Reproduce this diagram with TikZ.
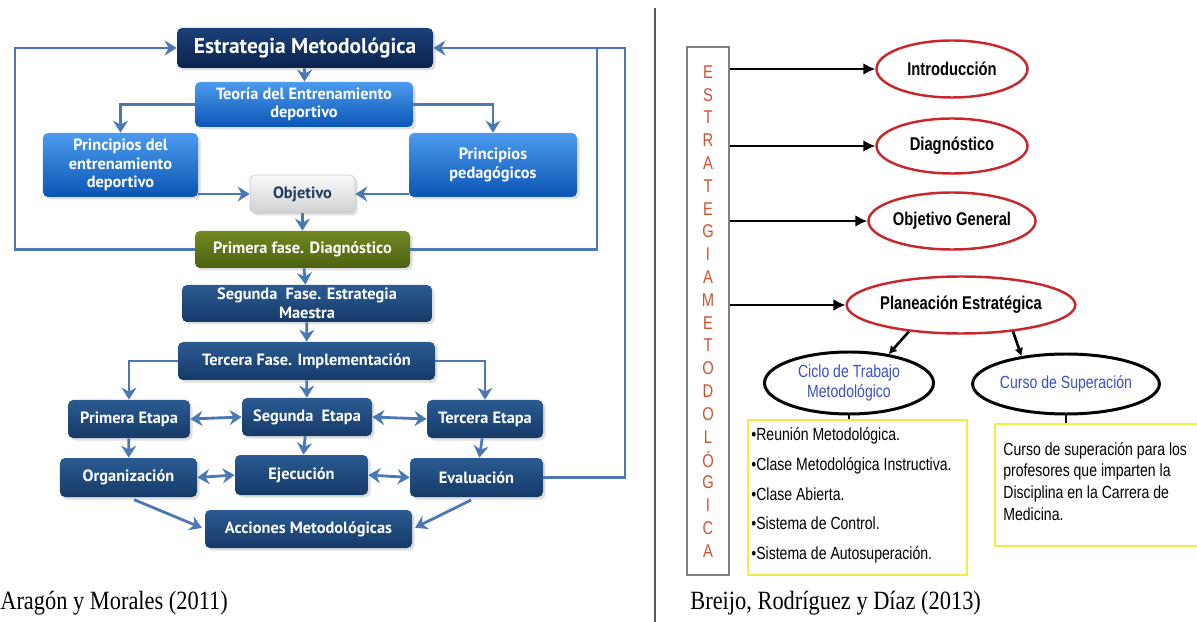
\documentclass[tikz,border=0pt]{standalone}
\usepackage{fontspec}
\setmainfont{Liberation Serif}
\newfontfamily\boxfont{PT Sans}
\newfontfamily\narrowfont[FakeStretch=0.8]{Liberation Sans}
\newfontfamily\capfont[FakeStretch=0.85]{Liberation Serif}
\usetikzlibrary{arrows.meta,shapes.geometric,positioning,shadows}

\definecolor{linkblue}{HTML}{4A78B4}
\definecolor{navytop}{HTML}{2B5B92}
\definecolor{navybot}{HTML}{153A68}
\definecolor{darktop}{HTML}{1B4079}
\definecolor{darkbot}{HTML}{0A234D}
\definecolor{brighttop}{HTML}{4C9BEF}
\definecolor{brightbot}{HTML}{0B55B4}
\definecolor{olivetop}{HTML}{718824}
\definecolor{olivebot}{HTML}{4D6210}
\definecolor{objtext}{HTML}{1F3A60}
\definecolor{ellred}{HTML}{C8282C}
\definecolor{letterred}{HTML}{D0502C}
\definecolor{cicloblue}{HTML}{3A4FC8}
\definecolor{boxyellow}{HTML}{F0EC48}

\begin{document}
\begin{tikzpicture}[x=0.2mm, y=-0.2mm,
    bx/.style={rounded corners=1mm, text=white, align=center, inner sep=1pt,
      font=\boxfont\bfseries\fontsize{9.3}{10.5}\selectfont,
      drop shadow={opacity=0.25, shadow xshift=0.5mm, shadow yshift=-0.5mm}},
    navybox/.style={bx, top color=navytop, bottom color=navybot},
    darkbox/.style={bx, top color=darktop, bottom color=darkbot},
    brightbox/.style={bx, top color=brighttop, bottom color=brightbot},
    olivebox/.style={bx, top color=olivetop, bottom color=olivebot},
    graybox/.style={bx, top color=white!95!gray, bottom color=gray!35, draw=gray!40, text=objtext},
    conn/.style={draw=linkblue, line width=1.6pt},
    tip/.style={-{Stealth[length=2.4mm,width=3mm,inset=0.8mm]}},
    dtip/.style={{Stealth[length=2.4mm,width=3mm,inset=0.8mm]}-{Stealth[length=2.4mm,width=3mm,inset=0.8mm]}},
    redell/.style={ellipse, draw=ellred, line width=1.4pt, inner sep=0pt,
      font=\narrowfont\bfseries\fontsize{10.5}{12}\selectfont},
    blkell/.style={ellipse, draw=black, line width=1.7pt, inner sep=0pt, text=cicloblue, align=center,
      font=\narrowfont\fontsize{10}{11}\selectfont},
    blk/.style={draw=black, line width=1.7pt, -{Latex[length=2.4mm,width=2.4mm]}},
    yelbox/.style={draw=boxyellow, line width=1.6pt},
    letter/.style={text=letterred, inner sep=0pt, font=\narrowfont\fontsize{10.5}{10.5}\selectfont}]

  \useasboundingbox (0,0) rectangle (1197,622);
  \clip (0,0) rectangle (1197,622);

  % left diagram
  \node[darkbox, minimum width=51.2mm, minimum height=8mm, font=\boxfont\bfseries\fontsize{12.2}{14}\selectfont] (estr) at (305,48) {Estrategia Metodológica};
  \node[brightbox, minimum width=43.6mm, minimum height=9mm] (teoria) at (304,104.5) {Teoría del Entrenamiento\\deportivo};
  \node[brightbox, minimum width=31mm, minimum height=12.8mm] (pdel) at (120.5,165) {Principios del\\entrenamiento\\deportivo};
  \node[brightbox, minimum width=33.6mm, minimum height=12.8mm] (pped) at (493,165) {Principios\\pedagógicos};
  \node[graybox, minimum width=21mm, minimum height=7.6mm] (obj) at (302.5,194) {Objetivo};
  \node[olivebox, minimum width=43mm, minimum height=7.4mm] (fase1) at (302.5,249.5) {Primera fase. Diagnóstico};
  \node[navybox, minimum width=50mm, minimum height=7.4mm] (fase2) at (307,303.5) {Segunda\ \ Fase. Estrategia\\Maestra};
  \node[navybox, minimum width=51.4mm, minimum height=7.6mm] (fase3) at (306.5,361) {Tercera Fase. Implementación};
  \node[navybox, minimum width=24.4mm, minimum height=7.6mm] (etapa1) at (129,419) {Primera Etapa};
  \node[navybox, minimum width=26mm, minimum height=7.6mm] (etapa2) at (307,417) {Segunda\ \ Etapa};
  \node[navybox, minimum width=23.2mm, minimum height=7.6mm] (etapa3) at (485,419) {Tercera Etapa};
  \node[navybox, minimum width=27.4mm, minimum height=7.8mm] (org) at (128.5,477.5) {Organización};
  \node[navybox, minimum width=26.6mm, minimum height=8mm] (ejec) at (301.5,475) {Ejecución};
  \node[navybox, minimum width=26.6mm, minimum height=7.8mm] (eval) at (476.5,477.5) {Evaluación};
  \node[navybox, minimum width=41.4mm, minimum height=7.6mm] (acc) at (308.5,529) {Acciones Metodológicas};

  \coordinate (lloop) at (15,48);
  \coordinate (rloopa) at (597,48);
  \coordinate (rloopb) at (625,48);

  \draw[conn, tip] (fase1.west) -| (lloop) -- (estr.west);
  \draw[conn] (fase1.east) -| (rloopa);
  \draw[conn, tip] (eval.east) -| (rloopb) -- (estr.east);
  \draw[conn, tip] (estr) -- (teoria);
  \draw[conn, tip] (teoria.west) -| (pdel.north);
  \draw[conn, tip] (teoria.east) -| (pped.north);
  \draw[conn, tip] (pdel.east |- obj.west) -- (obj.west);
  \draw[conn, tip] (pped.west |- obj.east) -- (obj.east);
  \draw[conn, tip] (obj) -- (fase1);
  \draw[conn, tip] (fase1) -- (fase2);
  \draw[conn, tip] (fase2) -- (fase3);
  \draw[conn, tip] (fase3.west) -| (etapa1.north);
  \draw[conn, tip] (fase3.east) -| (etapa3.north);
  \draw[conn, tip] (fase3) -- (etapa2);
  \draw[conn, dtip] (etapa1.east) -- (etapa2.west);
  \draw[conn, dtip] (etapa2.east) -- (etapa3.west);
  \draw[conn, tip] (etapa1) -- (org);
  \draw[conn, tip] (etapa2) -- (ejec);
  \draw[conn, tip] (etapa3) -- (eval);
  \draw[conn, dtip] (org.east) -- (ejec.west);
  \draw[conn, dtip] (ejec.east) -- (eval.west);
  \draw[conn, tip, shorten <=1.2mm, shorten >=0.6mm] (org.south) -- (acc.west);
  \draw[conn, tip, shorten <=1.2mm, shorten >=0.6mm] (eval.south) -- (acc.east);

  \node[font=\capfont\fontsize{15}{15}\selectfont, anchor=west, inner sep=0pt] (capa) at (0,603) {Aragón y Morales (2011)};

  % divider
  \draw[gray!70!black, line width=0.9pt] (655,8) -- (655,622);

  % right diagram
  \node[draw=gray, line width=1.3pt, minimum width=8.4mm, minimum height=105.6mm] (estbox) at (708,311) {};
  \foreach \l [count=\i from 0] in {E,S,T,R,A,T,E,G,I,A,M,E,T,O,D,O,L,Ó,G,I,C,A}
    \node[letter] (let\i) at (708,{72+22.8*\i}) {\l};

  \node[redell, minimum width=30.2mm, minimum height=11.4mm] (intro) at (952,69) {Introducción};
  \node[redell, minimum width=30.2mm, minimum height=11mm] (diag) at (952,146) {Diagnóstico};
  \node[redell, minimum width=30.2mm, minimum height=11.4mm] (objg) at (952,221) {Objetivo General};
  \node[redell, minimum width=42.4mm, minimum height=11.4mm] (plan) at (961,305) {Planeación Estratégica};

  \draw[blk] (estbox.east |- intro.west) -- (intro.west);
  \draw[blk] (estbox.east |- diag.west) -- (diag.west);
  \draw[blk] (estbox.east |- objg.west) -- (objg.west);
  \draw[blk] (estbox.east |- plan.west) -- (plan.west);

  \node[blkell, minimum width=33.8mm, minimum height=12.4mm] (ciclo) at (849,383) {Ciclo de Trabajo\\Metodológico};
  \node[blkell, minimum width=33.8mm, minimum height=12mm] (curso) at (1066,384) {Curso de Superación};
  \draw[black, line width=1.5pt, -{Latex[length=1.6mm,width=1.8mm]}] (plan.207) -- (ciclo.36);
  \draw[black, line width=1.5pt, -{Latex[length=1.6mm,width=1.8mm]}] (plan.333) -- (curso.148);

  \node[yelbox, minimum width=43.8mm, minimum height=31mm] (lista) at (857.5,497.5) {};
  \node[yelbox, minimum width=43mm, minimum height=24.4mm] (texto) at (1102.5,485) {};
  \draw[black, line width=1.5pt] (ciclo.south) -- (ciclo.south |- lista.north);
  \draw[black, line width=1.5pt] (curso.south) -- (curso.south |- texto.north);

  \node[anchor=north west, align=left, inner sep=0pt, font=\narrowfont\fontsize{10}{17}\selectfont] (items) at (751,427)
    {•Reunión Metodológica.\\•Clase Metodológica Instructiva.\\•Clase Abierta.\\•Sistema de Control.\\•Sistema de Autosuperación.};
  \node[anchor=north west, align=left, inner sep=0pt, font=\narrowfont\fontsize{10}{12.3}\selectfont] (detalle) at (1003,442)
    {Curso de superación para los\\profesores que imparten la\\Disciplina en la Carrera de\\Medicina.};

  \node[font=\capfont\fontsize{15}{15}\selectfont, anchor=west, inner sep=0pt] (capb) at (690,603) {Breijo, Rodríguez y Díaz (2013)};
\end{tikzpicture}
\end{document}
